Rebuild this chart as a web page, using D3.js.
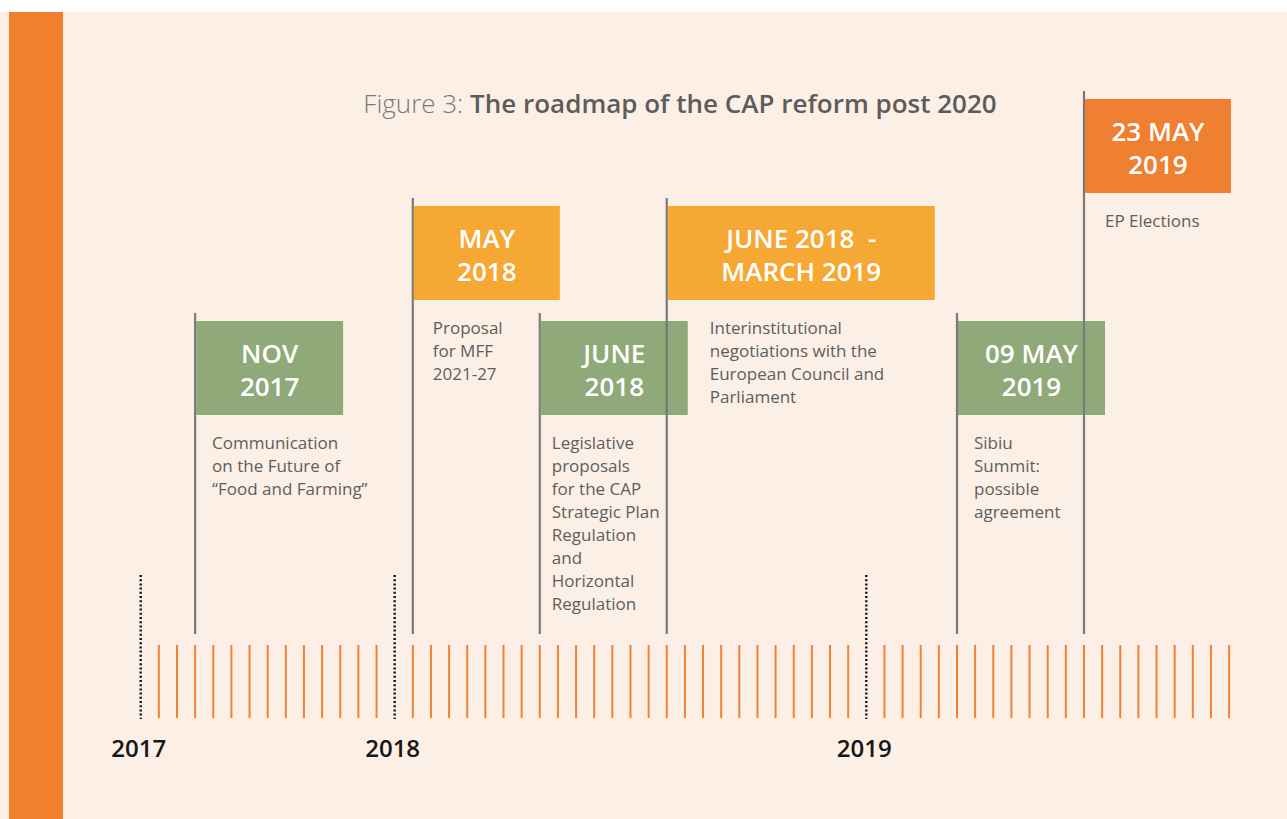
<!DOCTYPE html>
<html>
<head>
<meta charset="utf-8">
<script src="https://cdn.jsdelivr.net/npm/d3@7"></script>
<style>
  html, body { margin: 0; padding: 0; background: #ffffff; }
  svg { display: block; }
</style>
</head>
<body>
<svg id="chart" width="1287" height="819"></svg>
<script>
// ---------------- DATA ----------------
const titlePrefix = "Figure 3: ";
const titleMain = "The roadmap of the CAP reform post 2020";

const stepCount = 60;                       // decorative timeline steps
const yearLabels = ["2017", "2018", "2019"];
const yearSteps = [0, 14, 40];

const eventSteps = [3, 15, 22, 29, 45, 52];
const eventDates = [
  ["NOV", "2017"],
  ["MAY", "2018"],
  ["JUNE", "2018"],
  ["JUNE 2018  -", "MARCH 2019"],
  ["09 MAY", "2019"],
  ["23 MAY", "2019"]
];
const eventDescriptions = [
  ["Communication", "on the Future of", "\u201CFood and Farming\u201D"],
  ["Proposal", "for MFF", "2021-27"],
  ["Legislative", "proposals", "for the CAP", "Strategic Plan", "Regulation", "and", "Horizontal", "Regulation"],
  ["Interinstitutional", "negotiations with the", "European Council and", "Parliament"],
  ["Sibiu", "Summit:", "possible", "agreement"],
  ["EP Elections"]
];

// ---------------- LAYOUT / STYLE ----------------
const eventRow = [1, 0, 1, 0, 1, -1];           // box row: -1 top, 0 upper, 1 lower
const rowBoxTop = { "-1": 99, "0": 206, "1": 321 };
const boxWidths = [147, 146, 147, 267, 147, 146];
const descOffsets = [17, 20, 12, 43, 17, 21];
const eventColors = ["#8fa978", "#f6a834", "#8fa978", "#f6a834", "#8fa978", "#ef7f31"];
const boxH = 94;
const stemBottom = 634;

const W = 1287, H = 819;
const svg = d3.select("#chart");

// background
svg.append("rect").attr("x", 0).attr("y", 12).attr("width", W).attr("height", H - 12).attr("fill", "#fcefe6");
svg.append("rect").attr("x", 9).attr("y", 12).attr("width", 54).attr("height", H - 12).attr("fill", "#f07f2e");

// scale
const x = d3.scaleLinear().domain([0, stepCount]).range([140.7, 140.7 + stepCount * 18.14]);

// title
const title = svg.append("text")
  .attr("x", 680).attr("y", 113)
  .attr("text-anchor", "middle")
  .attr("font-family", "'Open Sans', sans-serif")
  .attr("font-size", 26);
title.append("tspan").attr("font-weight", 300).attr("fill", "#7a7a7a").text(titlePrefix);
title.append("tspan").attr("font-weight", 600).attr("fill", "#5c5c5c").text(titleMain);

// month ticks
const tickSteps = d3.range(1, stepCount + 1).filter(s => !yearSteps.includes(s));
svg.append("g").selectAll("line").data(tickSteps).join("line")
  .attr("x1", d => x(d)).attr("x2", d => x(d))
  .attr("y1", 645).attr("y2", 718)
  .attr("stroke", "#f28232").attr("stroke-width", 2);

// year dotted lines
svg.append("g").selectAll("line").data(yearSteps).join("line")
  .attr("x1", d => x(d)).attr("x2", d => x(d))
  .attr("y1", 575).attr("y2", 719)
  .attr("stroke", "#111").attr("stroke-width", 2.4)
  .attr("stroke-dasharray", "2,2.2");

// year labels
svg.append("g").selectAll("text").data(yearLabels).join("text")
  .attr("x", (d, i) => x(yearSteps[i]) - 2)
  .attr("y", 757)
  .attr("text-anchor", "middle")
  .attr("font-family", "'Open Sans', sans-serif")
  .attr("font-weight", 600)
  .attr("font-size", 24)
  .attr("fill", "#161616")
  .text(d => d);

// events
const ev = svg.append("g").selectAll("g").data(eventSteps).join("g");

ev.append("line")
  .attr("x1", d => x(d)).attr("x2", d => x(d))
  .attr("y1", (d, i) => rowBoxTop[eventRow[i]] - 8)
  .attr("y2", stemBottom)
  .attr("stroke", "#7a7a7a").attr("stroke-width", 2.2);

ev.append("rect")
  .attr("x", d => x(d) + 1)
  .attr("y", (d, i) => rowBoxTop[eventRow[i]])
  .attr("width", (d, i) => boxWidths[i])
  .attr("height", boxH)
  .attr("fill", (d, i) => eventColors[i]);

ev.each(function(d, i) {
  const g = d3.select(this);
  const top = rowBoxTop[eventRow[i]];
  const cx = x(d) + 1 + boxWidths[i] / 2;
  g.append("text")
    .attr("text-anchor", "middle")
    .attr("font-family", "'Open Sans', sans-serif")
    .attr("font-weight", 600)
    .attr("font-size", 26)
    .attr("fill", "#ffffff")
    .selectAll("tspan").data(eventDates[i]).join("tspan")
    .attr("x", cx)
    .attr("y", (t, j) => top + 42 + j * 33)
    .attr("xml:space", "preserve")
    .style("white-space", "pre")
    .text(t => t);

  g.append("text")
    .attr("font-family", "'Open Sans', sans-serif")
    .attr("font-weight", 400)
    .attr("font-size", 17)
    .attr("fill", "#5e5e5e")
    .selectAll("tspan").data(eventDescriptions[i]).join("tspan")
    .attr("x", x(d) + descOffsets[i])
    .attr("y", (t, j) => top + boxH + 34 + j * 23)
    .text(t => t);
});
</script>
</body>
</html>
